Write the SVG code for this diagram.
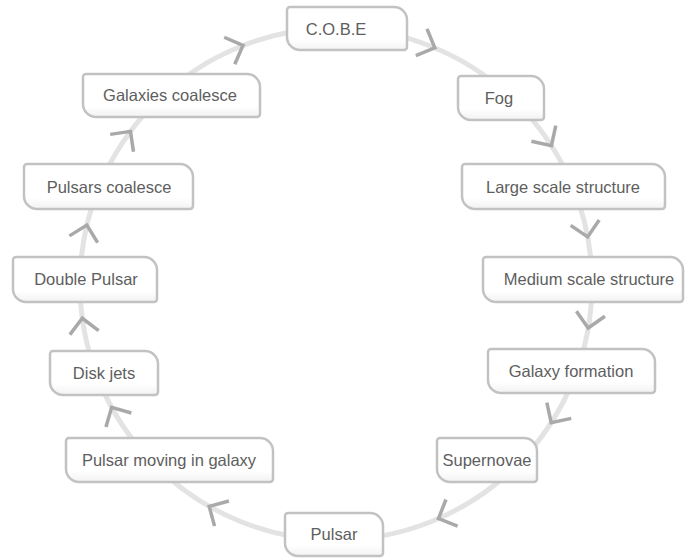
<svg xmlns="http://www.w3.org/2000/svg" xmlns:xlink="http://www.w3.org/1999/xlink" width="685" height="558" viewBox="0 0 685 558">
<defs>
<style>
.ring{fill:none;stroke:#e3e3e3;stroke-width:5}
.chev{fill:none;stroke:#a9a9a9;stroke-width:3.5;stroke-linecap:butt;stroke-linejoin:miter}
.box{fill:url(#g);stroke:#c2c2c2;stroke-width:2.5}
.lbl{font-family:"Liberation Sans",Arial,Helvetica,sans-serif;font-size:16.5px;fill:#5e5e5e;text-anchor:middle}
</style>
<linearGradient id="g" x1="0" y1="0" x2="0" y2="1">
<stop offset="0" stop-color="#ffffff"/>
<stop offset="0.75" stop-color="#ffffff"/>
<stop offset="1" stop-color="#f2f2f2"/>
</linearGradient>
<polyline id="chev" class="chev" points="577.5,269.5 592,284 606.5,269.5"/>
</defs>
<g id="connectors">
<circle class="ring" cx="336" cy="284" r="256"/>
<use xlink:href="#chev" transform="rotate(-111.3 336 284)"/>
<use xlink:href="#chev" transform="rotate(-67.3 336 284)"/>
<use xlink:href="#chev" transform="rotate(-32.7 336 284)"/>
<use xlink:href="#chev" transform="rotate(-10.6 336 284)"/>
<use xlink:href="#chev" transform="rotate(9.9 336 284)"/>
<use xlink:href="#chev" transform="rotate(32.8 336 284)"/>
<use xlink:href="#chev" transform="rotate(66.4 336 284)"/>
<use xlink:href="#chev" transform="rotate(119.7 336 284)"/>
<use xlink:href="#chev" transform="rotate(151.2 336 284)"/>
<use xlink:href="#chev" transform="rotate(172.3 336 284)"/>
<use xlink:href="#chev" transform="rotate(193.3 336 284)"/>
<use xlink:href="#chev" transform="rotate(216.6 336 284)"/>
</g>
<g id="node-cobe"><path class="box" d="M290,7 H394 A13,13 0 0 1 407,20 V47 A3,3 0 0 1 404,50 H300 A13,13 0 0 1 287,37 V10 A3,3 0 0 1 290,7 Z"/><text class="lbl" x="336" y="35">C.O.B.E</text></g>
<g id="node-fog"><path class="box" d="M461,76 H531 A13,13 0 0 1 544,89 V117 A3,3 0 0 1 541,120 H471 A13,13 0 0 1 458,107 V79 A3,3 0 0 1 461,76 Z"/><text class="lbl" x="499" y="104">Fog</text></g>
<g id="node-large"><path class="box" d="M465,164 H652 A13,13 0 0 1 665,177 V206 A3,3 0 0 1 662,209 H475 A13,13 0 0 1 462,196 V167 A3,3 0 0 1 465,164 Z"/><text class="lbl" x="563" y="193">Large scale structure</text></g>
<g id="node-medium"><path class="box" d="M486,257 H670 A13,13 0 0 1 683,270 V299 A3,3 0 0 1 680,302 H496 A13,13 0 0 1 483,289 V260 A3,3 0 0 1 486,257 Z"/><text class="lbl" x="589" y="285">Medium scale structure</text></g>
<g id="node-galaxy-formation"><path class="box" d="M491,349 H642 A13,13 0 0 1 655,362 V390 A3,3 0 0 1 652,393 H501 A13,13 0 0 1 488,380 V352 A3,3 0 0 1 491,349 Z"/><text class="lbl" x="571" y="377">Galaxy formation</text></g>
<g id="node-supernovae"><path class="box" d="M440,438 H524 A13,13 0 0 1 537,451 V479 A3,3 0 0 1 534,482 H450 A13,13 0 0 1 437,469 V441 A3,3 0 0 1 440,438 Z"/><text class="lbl" x="487" y="466">Supernovae</text></g>
<g id="node-pulsar"><path class="box" d="M288,513 H370 A13,13 0 0 1 383,526 V553 A3,3 0 0 1 380,556 H298 A13,13 0 0 1 285,543 V516 A3,3 0 0 1 288,513 Z"/><text class="lbl" x="334" y="540">Pulsar</text></g>
<g id="node-pulsar-moving"><path class="box" d="M69,438 H260 A13,13 0 0 1 273,451 V479 A3,3 0 0 1 270,482 H79 A13,13 0 0 1 66,469 V441 A3,3 0 0 1 69,438 Z"/><text class="lbl" x="169" y="466">Pulsar moving in galaxy</text></g>
<g id="node-disk-jets"><path class="box" d="M53,351 H145 A13,13 0 0 1 158,364 V392 A3,3 0 0 1 155,395 H63 A13,13 0 0 1 50,382 V354 A3,3 0 0 1 53,351 Z"/><text class="lbl" x="104" y="379">Disk jets</text></g>
<g id="node-double-pulsar"><path class="box" d="M16,257 H144 A13,13 0 0 1 157,270 V299 A3,3 0 0 1 154,302 H26 A13,13 0 0 1 13,289 V260 A3,3 0 0 1 16,257 Z"/><text class="lbl" x="86" y="285">Double Pulsar</text></g>
<g id="node-pulsars-coalesce"><path class="box" d="M27,164 H180 A13,13 0 0 1 193,177 V206 A3,3 0 0 1 190,209 H37 A13,13 0 0 1 24,196 V167 A3,3 0 0 1 27,164 Z"/><text class="lbl" x="109" y="193">Pulsars coalesce</text></g>
<g id="node-galaxies-coalesce"><path class="box" d="M86,74 H247 A13,13 0 0 1 260,87 V114 A3,3 0 0 1 257,117 H96 A13,13 0 0 1 83,104 V77 A3,3 0 0 1 86,74 Z"/><text class="lbl" x="170" y="101">Galaxies coalesce</text></g>
</svg>
